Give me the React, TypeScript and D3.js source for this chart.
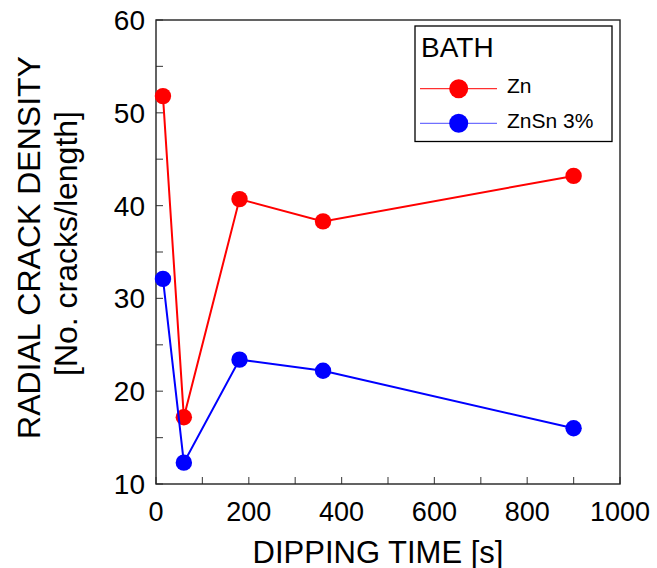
import React from "react";
import * as d3 from "d3";

const times = [15, 60, 180, 360, 900];
const zn = [51.8, 17.2, 40.7, 38.3, 43.2];
const znsn = [32.1, 12.3, 23.4, 22.2, 16.0];
const xTicks = [0, 200, 400, 600, 800, 1000];
const xMinor = [100, 300, 500, 700, 900];
const yTicks = [10, 20, 30, 40, 50, 60];
const yMinor = [15, 25, 35, 45, 55];
const seriesNames = ["Zn", "ZnSn 3%"];
const seriesColors = ["#ff0000", "#0000ff"];
const legendLineColors = ["#ff3030", "#7070ff"];

const W = 657;
const H = 568;
const M = { left: 156, right: 620, top: 20, bottom: 484 };
const FONT = "'Liberation Sans', Arial, Helvetica, sans-serif";

export default function App() {
  const x = d3.scaleLinear().domain([0, 1000]).range([M.left, M.right]);
  const y = d3.scaleLinear().domain([10, 60]).range([M.bottom, M.top]);
  const line = d3
    .line<[number, number]>()
    .x((d) => x(d[0]))
    .y((d) => y(d[1]));
  const series = [zn, znsn].map((vals) => times.map((t, i) => [t, vals[i]] as [number, number]));
  const tickLen = 7;

  return (
    <svg
      width={W}
      height={H}
      style={{ position: "fixed", left: 0, top: 0, background: "#fff" }}
      fontFamily={FONT}
    >
      <rect x={0} y={0} width={W} height={H} fill="#fff" />
      {/* ticks */}
      {xTicks.concat(xMinor).map((t) => (
        <line key={"xt" + t} x1={x(t)} x2={x(t)} y1={M.bottom} y2={M.bottom - tickLen} stroke="#555" strokeWidth={1.2} />
      ))}
      {yTicks.concat(yMinor).map((t) => (
        <line key={"yt" + t} x1={M.left} x2={M.left + tickLen} y1={y(t)} y2={y(t)} stroke="#555" strokeWidth={1.2} />
      ))}
      {/* frame */}
      <rect x={M.left} y={M.top} width={M.right - M.left} height={M.bottom - M.top} fill="none" stroke="#222" strokeWidth={1.4} />
      {/* tick labels */}
      {xTicks.map((t) => (
        <text key={"xl" + t} x={x(t)} y={520.5} fontSize={27} textAnchor="middle" fill="#000">
          {t}
        </text>
      ))}
      {yTicks.map((t) => (
        <text key={"yl" + t} x={145} y={y(t) + 10} fontSize={28} textAnchor="end" fill="#000">
          {t}
        </text>
      ))}
      {/* axis titles */}
      <text x={378} y={562.5} fontSize={31} textAnchor="middle" fill="#000">
        DIPPING TIME [s]
      </text>
      <text transform="translate(40,247.5) rotate(-90)" fontSize={32} textAnchor="middle" fill="#000">
        RADIAL CRACK DENSITY
      </text>
      <text transform="translate(77,243.5) rotate(-90)" fontSize={32} textAnchor="middle" fill="#000">
        [No. cracks/length]
      </text>
      {/* data */}
      {series.map((s, i) => (
        <g key={"s" + i}>
          <path d={line(s) || ""} fill="none" stroke={seriesColors[i]} strokeWidth={2} />
          {s.map((d, j) => (
            <circle key={j} cx={x(d[0])} cy={y(d[1])} r={8.2} fill={seriesColors[i]} />
          ))}
        </g>
      ))}
      {/* legend */}
      <rect x={415} y={26} width={197} height={115.5} fill="#fff" stroke="#000" strokeWidth={1.3} />
      <text x={421} y={56.5} fontSize={28} fill="#000">
        BATH
      </text>
      {seriesNames.map((n, i) => {
        const ly = 88.7 + i * 34.6;
        return (
          <g key={"lg" + i}>
            <line x1={420} x2={497} y1={ly} y2={ly} stroke={legendLineColors[i]} strokeWidth={1.3} />
            <circle cx={458.7} cy={ly} r={9.5} fill={seriesColors[i]} />
            <text x={507} y={ly + 4 + 0.5} fontSize={21} fill="#000">
              {n}
            </text>
          </g>
        );
      })}
    </svg>
  );
}
